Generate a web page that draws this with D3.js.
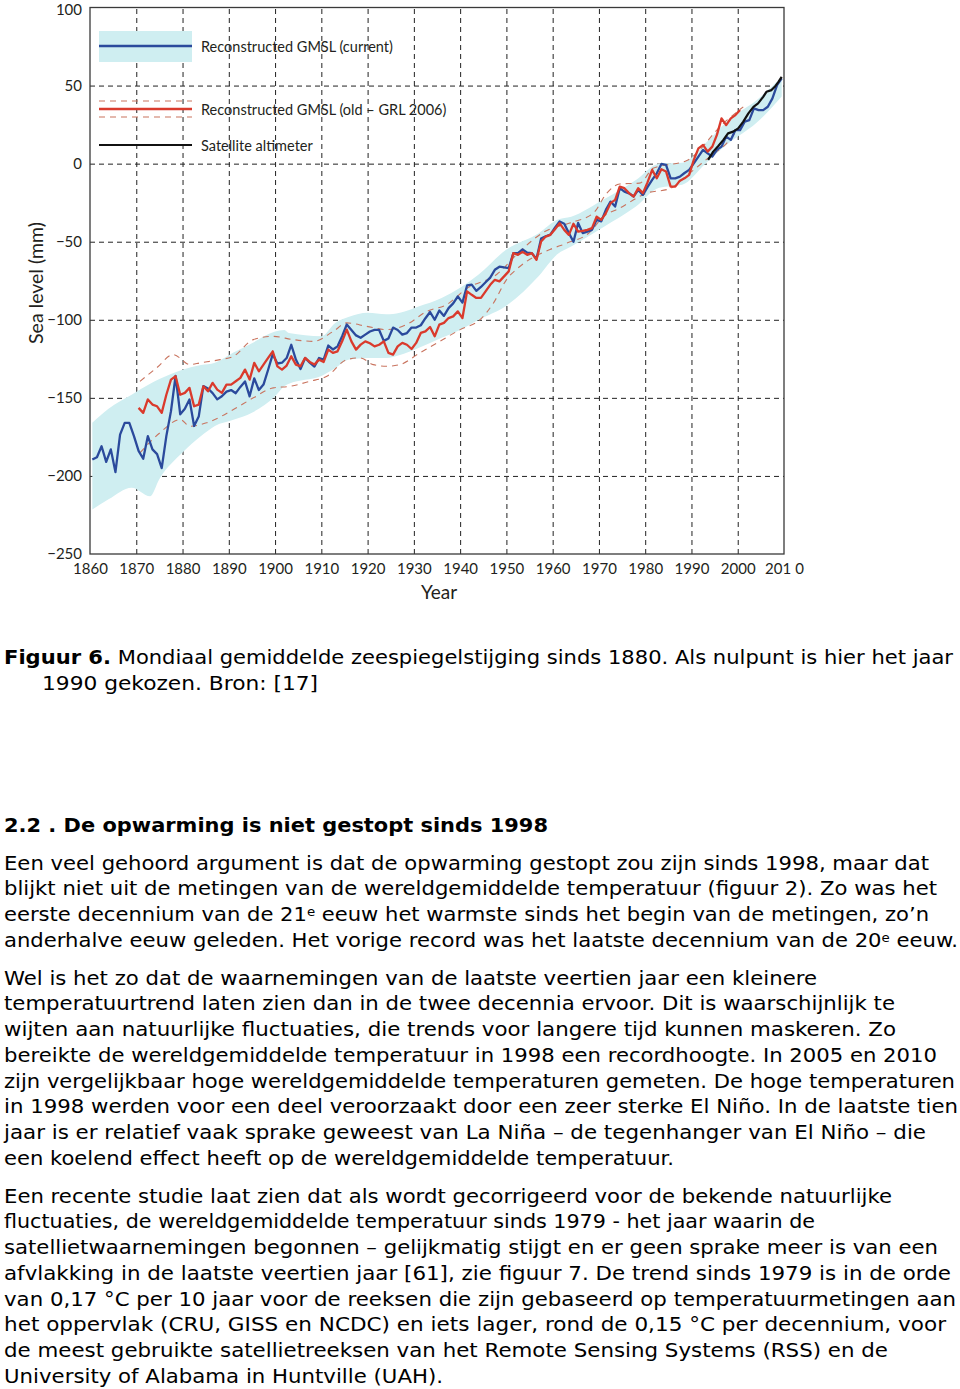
<!DOCTYPE html>
<html>
<head>
<meta charset="utf-8">
<script src="https://cdn.jsdelivr.net/npm/d3@7"></script>
<style>
  body { margin: 0; background: #fff; }
  svg { display: block; }
  .axis text { font-family: Lato, sans-serif; font-size: 15px; fill: #231f20; }
  .body-text { font-family: "DejaVu Sans", Verdana, sans-serif; font-size: 19px; fill: #000; }
</style>
</head>
<body>
<div id="chart"></div>
<script>
// annual means, plotted at mid-year
const blueStart = 1860;
const blueValues = [
  -189.5, -188, -181, -191, -183, -197.5, -173.5, -166, -166, -174.5,
  -184, -189, -174.5, -183, -186, -195, -174.5, -158.5, -136, -160.5,
  -157, -151, -168, -162, -142.5, -144, -147, -151, -149, -146,
  -145, -147, -143, -139.5, -149, -137.5, -145, -141.5, -132, -122,
  -128, -127.5, -124.5, -116, -125.5, -131.5, -124.5, -127.5, -130, -124.5,
  -125.5, -116.5, -119, -117, -110.5, -103, -106.5, -110, -111.5, -109.5,
  -107.5, -106.5, -106.5, -113.5, -112, -105, -106.5, -109.5, -108.5, -105,
  -105, -103.5, -99, -95, -100, -94, -97.5, -92.5, -89.5, -85,
  -89, -78, -77.5, -81.5, -79, -76, -73, -68, -66, -66.5,
  -66.9, -57.3, -57.3, -55, -57, -57.3, -61, -48, -46.5, -45.5,
  -41, -37, -38.5, -44.5, -50, -38, -44.5, -43.5, -42.4, -36,
  -37, -29.6, -24.3, -27.5, -15.7, -17.9, -19, -21, -16.8, -20,
  -15, -10.4, -6.2, -0.2, -0.8, -9.4, -9.4, -8.3, -6, -4,
  0.2, 4.5, 8.8, 6.6, 4.5, 8.8, 10.9, 17.3, 15.2, 21.5,
  21.5, 26.9, 27.9, 35.4, 34.3, 34.3, 36.4, 41.8, 50.3, 54.6
];

const redStart = 1870;
const redValues = [
  -156.4, -159.6, -151, -154.3, -155.4, -159.6, -148, -138.3, -136.2, -148,
  -146.8, -143.6, -155.4, -154.3, -142.6, -145.8, -140.4, -144.7, -146.8, -141.5,
  -141.5, -139.4, -137.2, -131.9, -138.3, -127.6, -133, -128.7, -124.4, -120.2,
  -129.8, -131.9, -129.3, -123.4, -128.7, -129.8, -124.4, -127, -128.7, -125.5,
  -127, -119.1, -121.2, -120.2, -113.8, -106.3, -113.8, -119.1, -115.9, -113.8,
  -115, -117, -116, -113.8, -121.2, -122.3, -117, -114.8, -116, -118.7,
  -114.8, -108.4, -107.4, -104.6, -110.6, -103.1, -102, -98.9, -97.8, -94.6,
  -98.9, -81.8, -84, -86, -86, -81.8, -77.6, -74.4, -75.4, -72.2,
  -69, -57.3, -58.4, -56.5, -58.4, -57.3, -61.6, -49.9, -46.7, -45.6,
  -42, -38.1, -42.4, -45.6, -38.5, -43.5, -43, -42.4, -41.3, -33.9,
  -36, -31.7, -25.3, -23.2, -14.7, -15.7, -18.9, -21.1, -15.7, -18.9,
  -12, -4, -9.4, -3.6, -5, -14.7, -14.7, -10.9, -9.4, -7.2,
  2.4, 9.8, 12, 7.7, 10.9, 18.4, 29, 24.7, 29, 31.1, 34.3
];

// old (GRL 2006) uncertainty bounds
const oldUpperYears = [1870.8, 1874.4, 1878, 1881.6, 1883.8, 1888.1, 1891, 1895.3, 1899.6, 1903.9,
  1908.3, 1912.6, 1915.5, 1919.8, 1924.1, 1928.4, 1932.8, 1937.1, 1941.4, 1947.9,
  1952.9, 1958, 1963.7, 1968.8, 1971.7, 1974.5, 1978.8, 1981.7, 1989, 1996.9, 2001.2];
const oldUpper = [-139.4, -130.8, -122.3, -128.7, -127.6, -125.5, -123.4, -112.7, -110.6, -112.7,
  -113.8, -107.4, -102, -104.2, -106.3, -103.1, -94.6, -90.3, -80, -71,
  -56.2, -44, -38, -31.7, -18.9, -13, -12.5, -3, 2, 25.8, 36.4];
const oldLowerYears = [1870.8, 1875.1, 1879.5, 1881.6, 1885.2, 1891, 1895.3, 1899.6, 1903.2, 1907.5,
  1911.2, 1915.5, 1918.4, 1921.2, 1924.1, 1927, 1931.3, 1935.6, 1940, 1944.3,
  1947.2, 1950, 1952.9, 1959.4, 1963, 1968, 1970.9, 1974.5, 1980.3, 1985.3,
  1989.6, 1994, 1997.6, 2000.5];
const oldLower = [-185.2, -172.4, -163.9, -168.2, -166, -157.5, -150, -143.6, -142.6, -139.4,
  -136.2, -125.5, -124.4, -128.7, -129.8, -128.7, -121.2, -113.8, -106.3, -99.9,
  -89.3, -74.4, -65.9, -55, -51, -44, -34, -28.5, -18.9, -16,
  -6.1, 4.5, 13, 23.7];

// current reconstruction uncertainty band
const bandYears = [1860.5, 1864, 1869, 1873, 1875, 1880, 1884, 1887, 1891, 1895,
  1900, 1902, 1903, 1910, 1913, 1916, 1920, 1924, 1927, 1931,
  1936, 1940, 1944, 1950, 1957, 1961, 1964, 1971, 1978, 1983,
  1988, 1993, 1998, 2004, 2009.5];
const bandUpper = [-166, -157, -148, -141, -138, -132, -129, -127.5, -121, -115,
  -107.5, -106.5, -108.5, -110.5, -102, -98, -95.5, -96.5, -95.5, -91.5,
  -86, -79.5, -71, -55, -44.5, -36, -34, -23, -10.5, 0,
  0.5, 13, 28, 40.5, 55.5];
const bandLower = [-221.5, -215, -207.5, -213, -202, -185, -174.5, -168, -164, -159.5,
  -149, -142.5, -141, -136, -131, -125.5, -124.5, -124.5, -122.5, -118,
  -111.5, -106.5, -100, -91, -72, -58, -53, -40.5, -27.5, -15.5,
  -13.5, 0, 13, 26, 43];

// satellite altimetry
const blackYears = [1993.6, 1994.7, 1995.8, 1996.9, 1997.9, 1999, 2000.1, 2001.2, 2002.3, 2003.4,
  2004.4, 2005.5, 2006.2, 2007.3, 2008, 2008.8, 2009.5];
const blackValues = [2.4, 7.7, 11.3, 15.2, 19.4, 20.5, 22.6, 26.9, 32.2, 36.4,
  38.6, 42.8, 46, 47.1, 49.2, 52.4, 55.6];

const xTicks = d3.range(1860, 2011, 10);
const yTicks = [100, 50, 0, -50, -100, -150, -200, -250];
const legendLabels = ['Reconstructed GMSL (current)', 'Reconstructed GMSL (old \u2013 GRL 2006)', 'Satellite altimeter'];

const caption = [
  '**Figuur 6.** Mondiaal gemiddelde zeespiegelstijging sinds 1880. Als nulpunt is hier het jaar',
  '1990 gekozen. Bron: [17]'
];
const heading = ['**2.2 . De opwarming is niet gestopt sinds 1998**'];
const para1 = [
  'Een veel gehoord argument is dat de opwarming gestopt zou zijn sinds 1998, maar dat',
  'blijkt niet uit de metingen van de wereldgemiddelde temperatuur (figuur 2). Zo was het',
  'eerste decennium van de 21^e eeuw het warmste sinds het begin van de metingen, zo\u2019n',
  'anderhalve eeuw geleden. Het vorige record was het laatste decennium van de 20^e eeuw.'
];
const para2 = [
  'Wel is het zo dat de waarnemingen van de laatste veertien jaar een kleinere',
  'temperatuurtrend laten zien dan in de twee decennia ervoor. Dit is waarschijnlijk te',
  'wijten aan natuurlijke fluctuaties, die trends voor langere tijd kunnen maskeren. Zo',
  'bereikte de wereldgemiddelde temperatuur in 1998 een recordhoogte. In 2005 en 2010',
  'zijn vergelijkbaar hoge wereldgemiddelde temperaturen gemeten. De hoge temperaturen',
  'in 1998 werden voor een deel veroorzaakt door een zeer sterke El Ni\u00f1o. In de laatste tien',
  'jaar is er relatief vaak sprake geweest van La Ni\u00f1a \u2013 de tegenhanger van El Ni\u00f1o \u2013 die',
  'een koelend effect heeft op de wereldgemiddelde temperatuur.'
];
const para3 = [
  'Een recente studie laat zien dat als wordt gecorrigeerd voor de bekende natuurlijke',
  'fluctuaties, de wereldgemiddelde temperatuur sinds 1979 - het jaar waarin de',
  'satellietwaarnemingen begonnen \u2013 gelijkmatig stijgt en er geen sprake meer is van een',
  'afvlakking in de laatste veertien jaar [61], zie figuur 7. De trend sinds 1979 is in de orde',
  'van 0,17 \u00b0C per 10 jaar voor de reeksen die zijn gebaseerd op temperatuurmetingen aan',
  'het oppervlak (CRU, GISS en NCDC) en iets lager, rond de 0,15 \u00b0C per decennium, voor',
  'de meest gebruikte satellietreeksen van het Remote Sensing Systems (RSS) en de',
  'University of Alabama in Huntville (UAH).'
];

const W = 960, H = 1389;
const margin = {top: 7.5, left: 90, right: 176, bottom: 835};

const svg = d3.select('#chart').append('svg')
    .attr('width', W)
    .attr('height', H);

const x = d3.scaleLinear().domain([1860, 2010]).range([margin.left, W - margin.right]);
const y = d3.scaleLinear().domain([-250, 100]).range([H - margin.bottom, margin.top]);

const blue = blueValues.map((v, i) => ({year: blueStart + i + 0.5, v}));
const red = redValues.map((v, i) => ({year: redStart + i + 0.5, v}));
const black = blackValues.map((v, i) => ({year: blackYears[i], v}));
const band = bandYears.map((yr, i) => ({year: yr, lo: bandLower[i], hi: bandUpper[i]}));
const upper = oldUpper.map((v, i) => ({year: oldUpperYears[i], v}));
const lower = oldLower.map((v, i) => ({year: oldLowerYears[i], v}));

// grid
const gridX = svg.append('g')
    .attr('transform', `translate(0,${y(-250)})`)
    .call(d3.axisBottom(x).tickValues(xTicks.slice(1, -1)).tickSize(-(y(-250) - y(100))).tickFormat(''));
const gridY = svg.append('g')
    .attr('transform', `translate(${x(1860)},0)`)
    .call(d3.axisLeft(y).tickValues(yTicks.slice(1, -1)).tickSize(-(x(2010) - x(1860))).tickFormat(''));
[gridX, gridY].forEach(g => {
  g.select('.domain').remove();
  g.selectAll('.tick line').attr('stroke', '#222').attr('stroke-width', 1).attr('stroke-dasharray', '5,4');
});

// current uncertainty band
svg.append('path')
    .datum(band)
    .attr('fill', '#cfeef1')
    .attr('d', d3.area().x(d => x(d.year)).y0(d => y(d.lo)).y1(d => y(d.hi)).curve(d3.curveMonotoneX));

const line = d3.line().x(d => x(d.year)).y(d => y(d.v));
const smooth = d3.line().x(d => x(d.year)).y(d => y(d.v)).curve(d3.curveMonotoneX);

[upper, lower].forEach(b => {
  svg.append('path')
      .datum(b)
      .attr('fill', 'none')
      .attr('stroke', '#c9745f')
      .attr('stroke-width', 1.1)
      .attr('stroke-dasharray', '6,5')
      .attr('d', smooth);
});

svg.append('path').datum(blue)
    .attr('fill', 'none').attr('stroke', '#2b4a9c').attr('stroke-width', 2.3)
    .attr('stroke-linejoin', 'round').attr('d', line);
svg.append('path').datum(red)
    .attr('fill', 'none').attr('stroke', '#da3a2c').attr('stroke-width', 2.3)
    .attr('stroke-linejoin', 'round').attr('d', line);
svg.append('path').datum(black)
    .attr('fill', 'none').attr('stroke', '#111').attr('stroke-width', 2.2)
    .attr('stroke-linejoin', 'round').attr('d', line);

// frame
svg.append('rect')
    .attr('x', x(1860)).attr('y', y(100))
    .attr('width', x(2010) - x(1860)).attr('height', y(-250) - y(100))
    .attr('fill', 'none').attr('stroke', '#3a3a3a').attr('stroke-width', 1.3);

// axes labels
const xAxis = svg.append('g')
    .attr('class', 'axis')
    .attr('transform', `translate(0,${y(-250)})`)
    .call(d3.axisBottom(x).tickValues(xTicks).tickSize(0).tickPadding(9).tickFormat(d3.format('d')));
xAxis.select('.domain').remove();
xAxis.selectAll('.tick text').filter(d => d === 2010)
    .text('201').append('tspan').attr('dx', 4).text('0');

const yAxis = svg.append('g')
    .attr('class', 'axis')
    .attr('transform', `translate(${x(1860)},0)`)
    .call(d3.axisLeft(y).tickValues(yTicks).tickSize(0).tickPadding(8));
yAxis.select('.domain').remove();
yAxis.selectAll('.tick text').filter(d => d === 100).attr('dy', '0.45em');

svg.append('text')
    .attr('x', 439).attr('y', 599)
    .attr('text-anchor', 'middle')
    .style('font-family', 'Lato, sans-serif').style('font-size', '19px').attr('fill', '#231f20')
    .text('Year');
svg.append('text')
    .attr('transform', 'translate(43,283) rotate(-90)')
    .attr('text-anchor', 'middle')
    .style('font-family', 'Lato, sans-serif').style('font-size', '19.5px').attr('fill', '#231f20')
    .text('Sea level (mm)');

// legend
const lg = svg.append('g').attr('transform', 'translate(99,0)');
lg.append('rect').attr('x', 0).attr('y', 31).attr('width', 93).attr('height', 31).attr('fill', '#cfeef1');
lg.append('line').attr('x1', 0).attr('x2', 93).attr('y1', 46).attr('y2', 46)
    .attr('stroke', '#2b4a9c').attr('stroke-width', 2.3);
[101, 117].forEach(yy => {
  lg.append('line').attr('x1', 0).attr('x2', 93).attr('y1', yy).attr('y2', yy)
      .attr('stroke', '#c9745f').attr('stroke-width', 1.1).attr('stroke-dasharray', '6,5');
});
lg.append('line').attr('x1', 0).attr('x2', 93).attr('y1', 109).attr('y2', 109)
    .attr('stroke', '#da3a2c').attr('stroke-width', 2.3);
lg.append('line').attr('x1', 0).attr('x2', 93).attr('y1', 145).attr('y2', 145)
    .attr('stroke', '#111').attr('stroke-width', 2.2);
lg.selectAll('text.leg')
    .data(legendLabels)
    .join('text')
    .attr('class', 'leg')
    .attr('x', 102)
    .attr('y', (d, i) => [51.5, 114.5, 150.5][i])
    .style('font-family', 'Lato, sans-serif').style('font-size', '14.5px').attr('fill', '#231f20')
    .text(d => d);

// text below the figure
function writeLine(str, x0, baseline, endX) {
  const t = svg.append('text').attr('class', 'body-text').attr('x', x0).attr('y', baseline);
  const parts = str.split(/(\*\*[^*]+\*\*|\^\w)/).filter(p => p.length);
  parts.forEach(p => {
    if (p.startsWith('**')) {
      t.append('tspan').style('font-weight', 'bold').text(p.slice(2, -2));
    } else if (p.startsWith('^')) {
      t.append('tspan').attr('baseline-shift', '45%').style('font-size', '12px').text(p.slice(1));
    } else {
      t.append('tspan').text(p);
    }
  });
  if (endX) {
    t.attr('textLength', endX - x0).attr('lengthAdjust', 'spacingAndGlyphs');
  }
  return t;
}

const blocks = [
  {lines: caption, start: 664, x0: [4, 42], ends: [953, 318]},
  {lines: heading, start: 832, x0: [4], ends: [548]},
  {lines: para1, start: 869.5, x0: [4], ends: [929, 937, 929, 958]},
  {lines: para2, start: 984.5, x0: [4], ends: [817, 895, 896, 937, 955, 958, 926, 674]},
  {lines: para3, start: 1202.5, x0: [4], ends: [892, 815, 938, 951, 956, 946, 888, 443]}
];
const lineStep = 25.75;
blocks.forEach(b => {
  b.lines.forEach((s, i) => {
    const x0 = b.x0[i] !== undefined ? b.x0[i] : b.x0[0];
    writeLine(s, x0, b.start + i * lineStep, b.ends[i]);
  });
});
</script>
</body>
</html>
